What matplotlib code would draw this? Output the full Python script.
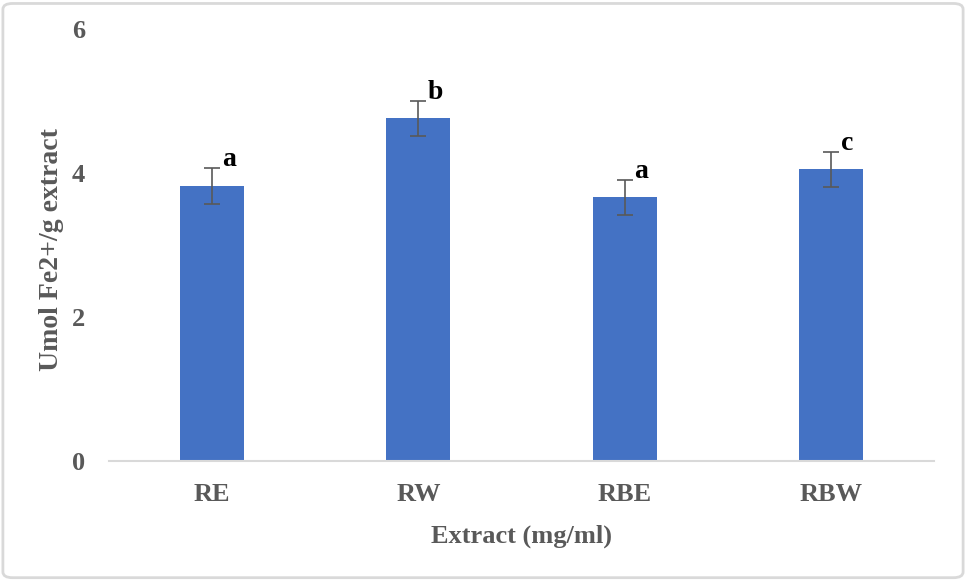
import matplotlib.pyplot as plt
from matplotlib.patches import FancyBboxPatch

# data
extracts = ['RE', 'RW', 'RBE', 'RBW']
values = [3.82, 4.76, 3.66, 4.05]
errors = [0.25, 0.24, 0.24, 0.24]
letters = ['a', 'b', 'a', 'c']

plt.rcParams['font.family'] = ['Liberation Serif', 'DejaVu Serif']
plt.rcParams['font.weight'] = 'bold'
plt.rcParams['axes.labelweight'] = 'bold'

fig = plt.figure(figsize=(9.66, 5.8), dpi=100)
ax = fig.add_axes([0.1128, 0.2052, 0.8541, 0.7448])

x = range(len(extracts))
ax.bar(x, values, width=0.31, color='#4472C4', zorder=2)
ax.errorbar(x, values, yerr=errors, fmt='none', ecolor='#595959',
            elinewidth=1.2, capsize=6, capthick=1.2, zorder=3)

# significance letters
for i, (v, e, l) in enumerate(zip(values, errors, letters)):
    ax.text(i + 0.08, v + e - 0.05, l, ha='center', va='bottom', fontsize=20,
            fontweight='bold', color='black')

ax.set_xlim(-0.5, 3.5)
ax.set_ylim(0, 6)
ax.set_yticks([0, 2, 4, 6])
ax.set_xticks(list(x))
ax.set_xticklabels(extracts)
ax.tick_params(axis='both', length=0, labelsize=19, labelcolor='#595959')
ax.tick_params(axis='y', pad=17)
ax.tick_params(axis='x', pad=16)

for s in ['top', 'right', 'left']:
    ax.spines[s].set_visible(False)
ax.spines['bottom'].set_color('#d9d9d9')
ax.spines['bottom'].set_linewidth(1.5)

ax.set_xlabel('Extract (mg/ml)', fontsize=19, color='#595959', labelpad=13)
ax.set_ylabel('Umol Fe2+/g extract', fontsize=20, color='#595959')
ax.yaxis.set_label_coords(-0.054, 0.49)

# light frame around the picture
frame = FancyBboxPatch((0.003, 0.004), 0.994, 0.99, boxstyle='round,pad=0,rounding_size=0.01',
                       transform=fig.transFigure, fill=False, edgecolor='#d9d9d9',
                       linewidth=2)
fig.patches.append(frame)

fig.savefig('out.png', dpi=100)
